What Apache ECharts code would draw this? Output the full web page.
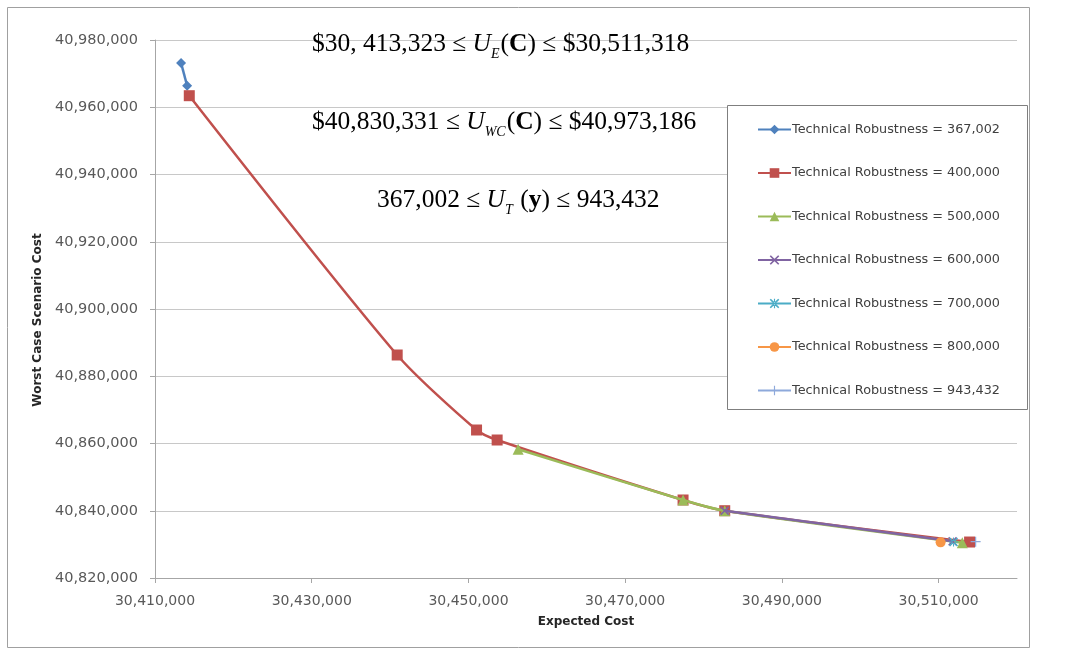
<!DOCTYPE html>
<html>
<head>
<meta charset="utf-8">
<script src="https://cdn.jsdelivr.net/npm/echarts@6/dist/echarts.min.js"></script>
<style>
  html, body { margin: 0; padding: 0; background: #fff; }
  #chart { width: 1087px; height: 650px; }
</style>
</head>
<body>
<div id="chart"></div>
<script>
// Pareto points: [expected cost, worst case scenario cost] for each robustness level
const tr367002 = [[30413323, 40973186], [30414100, 40966400]];
const tr400000 = [[30414375, 40963435], [30440906, 40886320], [30451033, 40864015],
                  [30453661, 40861040], [30477385, 40843200], [30482704, 40840015],
                  [30513950, 40830700]];
const tr500000 = [[30456339, 40858275], [30477385, 40843200], [30482704, 40840015],
                  [30513020, 40830500]];
const tr600000 = [[30482704, 40840015], [30511780, 40830900]];
const tr700000 = [[30511900, 40830700]];
const tr800000 = [[30510250, 40830600]];
const tr943432 = [[30514720, 40830800]];

const seriesNames = ['Technical Robustness = 367,002', 'Technical Robustness = 400,000',
  'Technical Robustness = 500,000', 'Technical Robustness = 600,000',
  'Technical Robustness = 700,000', 'Technical Robustness = 800,000',
  'Technical Robustness = 943,432'];

const xTicks = [30410000, 30430000, 30450000, 30470000, 30490000, 30510000];
const yTicks = [40820000, 40840000, 40860000, 40880000, 40900000, 40920000, 40940000, 40960000, 40980000];

const fmt = v => Math.round(v).toLocaleString('en-US');

const crossX = 'path://M0,1.2 L1.2,0 L5,3.8 L8.8,0 L10,1.2 L6.2,5 L10,8.8 L8.8,10 L5,6.2 L1.2,10 L0,8.8 L3.8,5 Z';
const plus = 'path://M4.4,0 L5.6,0 L5.6,4.4 L10,4.4 L10,5.6 L5.6,5.6 L5.6,10 L4.4,10 L4.4,5.6 L0,5.6 L0,4.4 L4.4,4.4 Z';
const star = 'path://M0,1.2 L1.2,0 L5,3.8 L8.8,0 L10,1.2 L6.2,5 L10,8.8 L8.8,10 L5,6.2 L1.2,10 L0,8.8 L3.8,5 Z ' +
             'M4.4,0 L4.4,4.4 L0,4.4 L0,5.6 L4.4,5.6 L4.4,10 L5.6,10 L5.6,5.6 L10,5.6 L10,4.4 L5.6,4.4 L5.6,0 Z';

const colors = ['#4F81BD', '#C0504D', '#9BBB59', '#8064A2', '#4BACC6', '#F79646', '#8EA9DB'];
const symbols = ['diamond', 'rect', 'triangle', crossX, star, 'circle', plus];
const sizes = [10, 11, 11, 9, 9, 10, 10];
const datasets = [tr367002, tr400000, tr500000, tr600000, tr700000, tr800000, tr943432];

const series = datasets.map((d, i) => ({
  name: seriesNames[i],
  type: 'line',
  data: d,
  smooth: 0.25,
  symbol: symbols[i],
  symbolSize: sizes[i],
  showAllSymbol: true,
  color: colors[i],
  lineStyle: { width: 2.5, color: colors[i] },
  itemStyle: { color: colors[i] },
  emphasis: { disabled: true },
  z: 2 + i
}));

const sans = '"DejaVu Sans", sans-serif';
const serif = '"Liberation Serif", "DejaVu Serif", serif';
const mathRich = {
  a: { fontFamily: serif, fontSize: 25.5, color: '#111' },
  i: { fontFamily: serif, fontSize: 25.5, fontStyle: 'italic', color: '#111' },
  s: { fontFamily: serif, fontSize: 14, fontStyle: 'italic', color: '#111', padding: [20, 1, 0, 0] },
  b: { fontFamily: serif, fontSize: 25.5, fontWeight: 'bold', color: '#111' }
};

const chart = echarts.init(document.getElementById('chart'), null, { renderer: 'canvas' });
chart.setOption({
  animation: false,
  backgroundColor: '#fff',
  grid: { left: 155, top: 40, width: 862, height: 538, containLabel: false },
  xAxis: {
    type: 'value',
    min: 30410000, max: 30520000, interval: 20000,
    name: 'Expected Cost', nameLocation: 'middle', nameGap: 38,
    nameTextStyle: { fontFamily: sans, fontWeight: 'bold', fontSize: 12, color: '#262626' },
    axisLine: { show: true, lineStyle: { color: '#a6a6a6', width: 1 } },
    axisTick: { show: true, length: 5, customValues: xTicks, lineStyle: { color: '#a6a6a6' } },
    axisLabel: { customValues: xTicks, formatter: fmt, margin: 16, fontFamily: sans, fontSize: 14, color: '#595959' },
    splitLine: { show: false }
  },
  yAxis: {
    type: 'value',
    min: 40820000, max: 40980000, interval: 20000,
    name: 'Worst Case Scenario Cost', nameLocation: 'middle', nameGap: 110, nameRotate: 90,
    nameTextStyle: { fontFamily: sans, fontWeight: 'bold', fontSize: 12, color: '#262626', padding: [0, 22, 0, 0] },
    axisLine: { show: true, lineStyle: { color: '#a6a6a6', width: 1 } },
    axisTick: { show: true, length: 5, lineStyle: { color: '#a6a6a6' } },
    axisLabel: { customValues: yTicks, formatter: fmt, margin: 17, fontFamily: sans, fontSize: 14.5, color: '#595959' },
    splitLine: { show: true, lineStyle: { color: '#c8c8c8', width: 1.2 } }
  },
  legend: {
    orient: 'vertical',
    left: 752, top: 118,
    itemWidth: 33, itemHeight: 12, itemGap: 30.5,
    data: seriesNames,
    textStyle: { fontFamily: sans, fontSize: 12.8, color: '#404040', padding: [0, 0, 0, -4] },
    selectedMode: false
  },
  graphic: [
    { type: 'rect', shape: { x: 7.5, y: 7.5, width: 1022, height: 640 },
      style: { fill: 'none', stroke: '#a0a0a0', lineWidth: 1 }, silent: true, z: -1 },
    { type: 'rect', shape: { x: 727.5, y: 105.5, width: 300, height: 304 },
      style: { fill: '#fff', stroke: '#7f7f7f', lineWidth: 1 }, silent: true, z: 1 },
    { type: 'text', left: 312, top: 31, z: 10,
      style: { text: '{a|$30, 413,323 ≤ }{i|U}{s|E}{a|(}{b|C}{a|) ≤ $30,511,318}', rich: mathRich } },
    { type: 'text', left: 312, top: 109, z: 10,
      style: { text: '{a|$40,830,331 ≤ }{i|U}{s|WC}{a|(}{b|C}{a|) ≤ $40,973,186}', rich: mathRich } },
    { type: 'text', left: 377, top: 187, z: 10,
      style: { text: '{a|367,002 ≤ }{i|U}{s|T}{a| (}{b|y}{a|) ≤ 943,432}', rich: mathRich } }
  ],
  series: series
});
</script>
</body>
</html>
